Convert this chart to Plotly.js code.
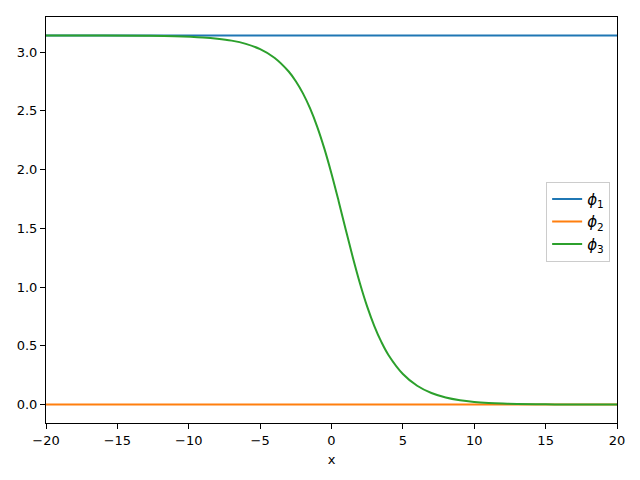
<!DOCTYPE html>
<html>
<head>
<meta charset="utf-8">
<script src="https://cdn.plot.ly/plotly-3.0.1.min.js"></script>
<style>body{margin:0;padding:0;background:#fff}#chart{width:640px;height:480px}</style>
</head>
<body>
<div id="chart"></div>
<script>
// x range endpoints for the flat lines
const xFlat = [-20, 20];
const phi1 = [3.14159, 3.14159];
const phi2 = [0, 0];

// phi3
const x3 = [-20, -16, -13, -11, -9, -8, -7, -6, -5, -4, -3, -2.5, -2, -1.5, -1, -0.5, 0, 0.5, 1, 1.5, 2, 2.5, 3, 3.5, 4, 5, 6, 7, 8, 9, 10, 11, 12, 13, 15, 17, 20];
const phi3 = [3.1415, 3.1411, 3.1392, 3.1354, 3.1251, 3.1146, 3.0978, 3.0702, 3.0254, 2.9526, 2.8352, 2.7524, 2.6488, 2.5206, 2.3642, 2.1784, 1.965, 1.7314, 1.4878, 1.2498, 1.0288, 0.8338, 0.6686, 0.531, 0.42, 0.2602, 0.1603, 0.0985, 0.0605, 0.0372, 0.0228, 0.014, 0.0086, 0.0053, 0.002, 0.00075, 0.0002];

const names = ['<i>ϕ</i><sub>1</sub>', '<i>ϕ</i><sub>2</sub>', '<i>ϕ</i><sub>3</sub>'];
const colors = ['#1f77b4', '#ff7f0e', '#2ca02c'];

const traces = [
  {x: xFlat, y: phi1, mode: 'lines', name: names[0], line: {color: colors[0], width: 2}},
  {x: xFlat, y: phi2, mode: 'lines', name: names[1], line: {color: colors[1], width: 2}},
  {x: x3, y: phi3, mode: 'lines', name: names[2], line: {color: colors[2], width: 2, shape: 'spline', smoothing: 1}}
];

const axisCommon = {
  showline: true, mirror: true, linecolor: '#000', linewidth: 1,
  ticks: 'outside', ticklen: 5, tickwidth: 1, tickcolor: '#000',
  showgrid: false, zeroline: false,
  tickfont: {family: 'DejaVu Sans', size: 13, color: '#000'}
};

const layout = {
  width: 640, height: 480,
  margin: {l: 46, r: 23, t: 17, b: 57},
  paper_bgcolor: '#fff', plot_bgcolor: '#fff',
  font: {family: 'DejaVu Sans', size: 13, color: '#000'},
  xaxis: Object.assign({}, axisCommon, {
    range: [-20, 20], tickmode: 'array', tickvals: [-20, -15, -10, -5, 0, 5, 10, 15, 20],
    title: {text: 'x', font: {family: 'DejaVu Sans', size: 13}, standoff: 8}
  }),
  yaxis: Object.assign({}, axisCommon, {
    range: [-0.157, 3.299], tickmode: 'array', tickvals: [0, 0.5, 1, 1.5, 2, 2.5, 3],
    tickformat: '.1f'
  }),
  legend: {
    x: 0.988, y: 0.594, xanchor: 'right', yanchor: 'top',
    bgcolor: 'rgba(255,255,255,0.8)', bordercolor: '#cccccc', borderwidth: 1,
    font: {family: 'DejaVu Sans', size: 15}, itemwidth: 30, tracegroupgap: 0
  },
  showlegend: true
};

Plotly.newPlot('chart', traces, layout, {staticPlot: true, displayModeBar: false});
</script>
</body>
</html>
